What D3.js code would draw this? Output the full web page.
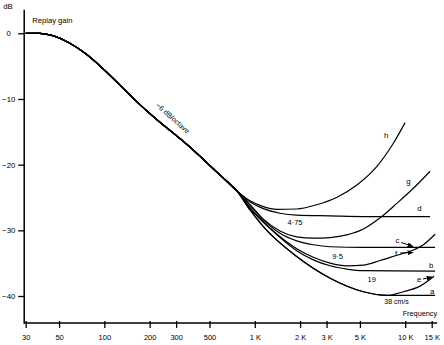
<!DOCTYPE html>
<html>
<head>
<meta charset="utf-8">
<script src="https://cdn.jsdelivr.net/npm/d3@7"></script>
<style>
  html, body { margin: 0; padding: 0; background: #fff; }
  svg { display: block; font-family: "Liberation Sans", Arial, Helvetica, sans-serif; }
</style>
</head>
<body>
<svg id="chart" width="444" height="345"></svg>
<script>
// Axis ticks
const freqTicks = [30, 50, 100, 200, 300, 500, 1000, 2000, 3000, 5000, 10000, 15000];
const freqTickLabels = ["30", "50", "100", "200", "300", "500", "1 K", "2 K", "3 K", "5 K", "10 K", "15 K"];
const dbTicks = [0, -10, -20, -30, -40];
const dbTickLabels = ["0", "\u221210", "\u221220", "\u221230", "\u221240"];

// Common low-frequency replay gain (-6 dB/octave region), Hz / dB
const mainFreq = [30, 37, 46, 59, 76, 98, 127, 164, 212, 353, 588, 760];
const mainDb   = [0, 0, -0.4, -1.5, -3.2, -5.4, -7.9, -10.4, -12.7, -16.9, -21.6, -24.0];

// High-frequency branches, continuing from the last common point
const hFreq = [930, 1140, 1400, 1900, 2580, 3500, 4770, 6470, 8340, 9980];
const hDb   = [-25.5, -26.4, -26.8, -26.75, -26.1, -25.0, -23.1, -20.3, -16.75, -13.6];

const dFreq = [930, 1140, 1470, 1900, 3170, 5270, 14630];
const dDb   = [-25.7, -26.7, -27.4, -27.7, -27.8, -27.9, -27.9];

const gFreq = [930, 1140, 1470, 1900, 2450, 3170, 4090, 5270, 6980, 8790, 11330, 14630];
const gDb   = [-26.1, -28.3, -30.1, -31.0, -31.2, -31.1, -30.7, -29.8, -27.9, -25.9, -23.6, -21.0];

const cFreq = [930, 1140, 1470, 1900, 2450, 3170, 5270, 15800];
const cDb   = [-26.2, -28.4, -30.45, -31.6, -32.2, -32.5, -32.6, -32.6];

const fFreq = [930, 1260, 1900, 2450, 3170, 4090, 5270, 6800, 8790, 11330, 13200, 15800];
const fDb   = [-26.6, -29.65, -32.8, -34.1, -35.0, -35.4, -35.3, -34.6, -33.8, -33.0, -32.2, -30.6];

const bFreq = [930, 1260, 1900, 2450, 3170, 4090, 5270, 15800];
const bDb   = [-26.6, -29.7, -33.1, -34.5, -35.4, -35.9, -36.15, -36.2];

const aFreq = [930, 1140, 1900, 3170, 5270, 7540, 15800];
const aDb   = [-26.9, -29.45, -34.0, -37.3, -39.35, -39.9, -39.9];

// e leaves curve a at its 7540 Hz point
const eFreq = [9720, 12550, 15560];
const eDb   = [-39.35, -38.5, -37.0];

const svg = d3.select("#chart");

const x = d3.scaleLog().domain([30, 15000]).range([25.7, 431.7]);
const y = d3.scaleLinear().domain([0, -40]).range([33.3, 296]);

// axis extents in data units
const freqAxisEnd = 16300;
const dbAxisTop = 3.6, dbAxisBottom = -44.1;

const ink = "#000";

// ---- axes ----
const xAxisY = y(dbAxisBottom);
svg.append("line")
  .attr("x1", x(30) - 1).attr("x2", x(freqAxisEnd))
  .attr("y1", xAxisY).attr("y2", xAxisY)
  .attr("stroke", ink).attr("stroke-width", 1.5);

svg.append("line")
  .attr("x1", x(30) - 1.5).attr("x2", x(30) - 1.5)
  .attr("y1", y(dbAxisTop)).attr("y2", xAxisY + 0.7)
  .attr("stroke", ink).attr("stroke-width", 1.5);

const xAxis = d3.axisBottom(x)
  .tickValues(freqTicks)
  .tickFormat((d, i) => freqTickLabels[i])
  .tickSize(5)
  .tickPadding(6.5);

const gx = svg.append("g")
  .attr("transform", `translate(0,${xAxisY})`)
  .call(xAxis);
gx.select(".domain").remove();
gx.selectAll(".tick line").attr("y1", -2).attr("stroke", ink).attr("stroke-width", 1.3);
gx.selectAll(".tick text")
  .attr("fill", ink)
  .style("font-size", "7.5px")
  .style("font-family", "\"Liberation Sans\", Arial, sans-serif");

const yAxis = d3.axisLeft(y)
  .tickValues(dbTicks)
  .tickFormat((d, i) => dbTickLabels[i])
  .tickSize(6);

const gy = svg.append("g")
  .attr("transform", `translate(${x(30) - 1.5},0)`)
  .call(yAxis);
gy.select(".domain").remove();
gy.selectAll(".tick line").attr("stroke", ink).attr("stroke-width", 1.3);
gy.selectAll(".tick text")
  .attr("fill", ink)
  .attr("text-anchor", "middle")
  .attr("x", -15.5)
  .style("font-size", "7.8px")
  .style("font-family", "\"Liberation Sans\", Arial, sans-serif");

// ---- curves ----
const zipPts = (fs, ds) => fs.map((f, i) => ({ f, db: ds[i] }));
const common = zipPts(mainFreq, mainDb);
const aPts = zipPts(aFreq, aDb);
const aSplit = aFreq.indexOf(7540) + 1;

const curves = [
  { id: "h", pts: common.concat(zipPts(hFreq, hDb)) },
  { id: "d", pts: common.concat(zipPts(dFreq, dDb)) },
  { id: "g", pts: common.concat(zipPts(gFreq, gDb)) },
  { id: "c", pts: common.concat(zipPts(cFreq, cDb)) },
  { id: "f", pts: common.concat(zipPts(fFreq, fDb)) },
  { id: "b", pts: common.concat(zipPts(bFreq, bDb)) },
  { id: "a", pts: common.concat(aPts) },
  { id: "e", pts: common.concat(aPts.slice(0, aSplit), zipPts(eFreq, eDb)) }
];

const line = d3.line()
  .x(d => x(d.f))
  .y(d => y(d.db))
  .curve(d3.curveMonotoneX);

svg.append("g")
  .selectAll("path")
  .data(curves)
  .join("path")
  .attr("class", d => "curve curve-" + d.id)
  .attr("d", d => line(d.pts))
  .attr("fill", "none")
  .attr("stroke", ink)
  .attr("stroke-width", 1.2)
  .attr("stroke-linejoin", "round");

// ---- text annotations ----
const txt = (content, f, db, size, anchor) =>
  svg.append("text")
    .attr("x", x(f)).attr("y", y(db))
    .attr("dy", "0.35em")
    .attr("text-anchor", anchor || "middle")
    .attr("fill", ink)
    .style("font-size", (size || 7.8) + "px")
    .text(content);

svg.append("text").attr("x", 3.2).attr("y", 9.3)
  .attr("fill", ink).style("font-size", "7.8px").text("dB");
svg.append("text").attr("x", 32.3).attr("y", 22.6)
  .attr("fill", ink).style("font-size", "7.6px").text("Replay gain");
svg.append("text").attr("x", x(freqAxisEnd)).attr("y", 316)
  .attr("text-anchor", "end")
  .attr("fill", ink).style("font-size", "7.3px").text("Frequency");

txt("h", 7460, -15.49);
txt("g", 10500, -22.6);
txt("d", 12420, -26.65);
txt("4\u00b775", 1852, -28.73, 7.5);
txt("c", 8870, -31.47);
txt("f", 8690, -33.5);
txt("9\u00b75", 3550, -33.91, 7.5);
txt("b", 14860, -35.28);
txt("19", 5990, -37.46, 7.5);
txt("e", 12360, -37.46);
txt("a", 15090, -39.24);
txt("38 cm/s", 8760, -40.91, 7);

// slope annotation, aligned with the -6 dB/octave stretch
const angle = Math.atan2(y(-21.6) - y(-12.7), x(588) - x(212)) * 180 / Math.PI;
svg.append("text")
  .attr("transform", `translate(${x(285)},${y(-12.9)}) rotate(${angle})`)
  .attr("text-anchor", "middle")
  .attr("dy", "0.35em")
  .attr("fill", ink)
  .style("font-size", "7.2px")
  .text("\u22126 dB/octave");

// ---- arrows to curves c, f and e ----
svg.append("defs").append("marker")
  .attr("id", "arrowhead")
  .attr("viewBox", "0 0 6 5")
  .attr("refX", 5.5).attr("refY", 2.5)
  .attr("markerWidth", 6).attr("markerHeight", 5)
  .attr("markerUnits", "userSpaceOnUse")
  .attr("orient", "auto")
  .append("path")
  .attr("d", "M0,0 L6,2.5 L0,5 Z")
  .attr("fill", ink);

const arrows = [
  { from: [9390, -31.85], to: [11280, -32.46] },
  { from: [9250, -33.45], to: [11280, -33.38] },
  { from: [13140, -37.41], to: [15090, -37.11] }
];
svg.append("g").selectAll("line")
  .data(arrows)
  .join("line")
  .attr("x1", d => x(d.from[0])).attr("y1", d => y(d.from[1]))
  .attr("x2", d => x(d.to[0])).attr("y2", d => y(d.to[1]))
  .attr("stroke", ink).attr("stroke-width", 1)
  .attr("marker-end", "url(#arrowhead)");
</script>
</body>
</html>
